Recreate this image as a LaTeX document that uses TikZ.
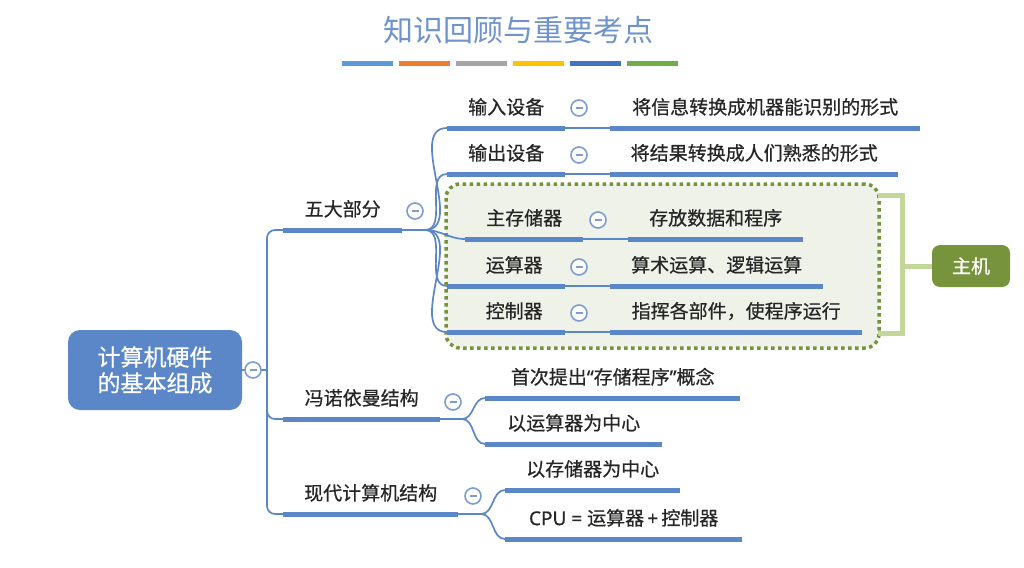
\documentclass[tikz,border=0pt]{standalone}
\usepackage{fontspec}
\newfontfamily\cjk{Noto Sans CJK SC}[FakeBold=0.6]
\newfontfamily\cjktitle{Noto Sans CJK SC}
\newfontfamily\latin{Noto Sans}[FakeBold=0.6]
\usetikzlibrary{positioning}
\definecolor{mapblue}{RGB}{91,135,200}
\definecolor{foldblue}{RGB}{125,157,210}
\definecolor{titleblue}{RGB}{111,147,204}
\definecolor{boxline}{RGB}{118,146,60}
\definecolor{boxfill}{RGB}{239,242,232}
\definecolor{bracketgreen}{RGB}{196,215,155}
\definecolor{hostgreen}{RGB}{119,147,60}
\definecolor{stripA}{HTML}{5B9BD5}
\definecolor{stripB}{HTML}{ED7D31}
\definecolor{stripC}{HTML}{A5A5A5}
\definecolor{stripD}{HTML}{FFC000}
\definecolor{stripE}{HTML}{4472C4}
\definecolor{stripF}{HTML}{70AD47}

\begin{document}
\begin{tikzpicture}[x=1pt,y=-1pt,
  bar/.style={rectangle,fill=mapblue,inner sep=0pt,minimum height=5pt,anchor=west},
  lbl/.style={font=\cjk\fontsize{19}{22}\selectfont,text=black!85,inner sep=0pt,text height=15pt,text depth=4pt},
  fold/.style={circle,draw=foldblue,line width=1.6pt,fill=white,minimum size=16pt,inner sep=0pt,
    path picture={\draw[foldblue,line width=1.4pt] ([xshift=-3.5pt]path picture bounding box.center) -- ([xshift=3.5pt]path picture bounding box.center);}},
  conn/.style={mapblue,line width=1.7pt},
]
\useasboundingbox[fill=white] (0,0) rectangle (1024,567);

% title and colour strips
\node[font=\cjktitle\fontsize{30}{34}\selectfont,text=titleblue] (title) at (518,30) {知识回顾与重要考点};
\foreach \c [count=\i] in {stripA,stripB,stripC,stripD,stripE,stripF}
  \node[fill=\c,minimum width=51pt,minimum height=5pt,inner sep=0pt] (strip\i) at ({367.5+57*(\i-1)},64) {};

% group of the host
\node[draw=boxline,fill=boxfill,line width=3.5pt,dash pattern=on 3.5pt off 3.5pt,rounded corners=14pt,
  minimum width=433pt,minimum height=164pt] (grp) at (662.5,266) {};
\node[fill=hostgreen,rounded corners=8pt,minimum width=78pt,minimum height=42pt,text=white,
  font=\cjk\fontsize{19}{22}\selectfont] (host) at (971,266) {主机};
\draw[bracketgreen,line width=5pt] (878,195) -- (902,195) -- (902,333) -- (878,333);
\coordinate (brk) at (902,266);
\draw[bracketgreen,line width=5pt] (brk) -- (host.west);

% root
\node[fill=mapblue,rounded corners=12pt,minimum width=174pt,minimum height=80pt,text=white,align=center,
  font=\cjk\fontsize{23}{26}\selectfont] (root) at (155,370) {计算机硬件\\的基本组成};

% bars
\node[bar,minimum width=119pt] (wd) at (283,230) {};
\node[bar,minimum width=157pt] (fn) at (283,419) {};
\node[bar,minimum width=175pt] (xd) at (283,514) {};
\node[bar,minimum width=118pt] (sr) at (447,128) {};
\node[bar,minimum width=118pt] (sc) at (447,174) {};
\node[bar,minimum width=118pt] (zc) at (465,239) {};
\node[bar,minimum width=118pt] (ys) at (447,286) {};
\node[bar,minimum width=118pt] (kz) at (447,332) {};
\node[bar,minimum width=310pt] (sr2) at (610,128) {};
\node[bar,minimum width=288pt] (sc2) at (610,174) {};
\node[bar,minimum width=175pt] (zc2) at (628,239) {};
\node[bar,minimum width=213pt] (ys2) at (610,286) {};
\node[bar,minimum width=252pt] (kz2) at (610,332) {};
\node[bar,minimum width=255pt] (fn1) at (485,398) {};
\node[bar,minimum width=177pt] (fn2) at (485,444) {};
\node[bar,minimum width=175pt] (xd1) at (505,490) {};
\node[bar,minimum width=237pt] (xd2) at (505,539) {};

% texts above the bars
\foreach \b/\t in {wd/五大部分,fn/冯诺依曼结构,xd/现代计算机结构,
  sr/输入设备,sc/输出设备,zc/主存储器,
  sr2/将信息转换成机器能识别的形式,sc2/将结果转换成人们熟悉的形式,zc2/存放数据和程序,
  ys2/算术运算、逻辑运算,kz2/指挥各部件，使程序运行,
  fn2/以运算器为中心,xd1/以存储器为中心}
  \node[lbl,above=7pt of \b] (\b-t) {\t};
\node[lbl,above=7pt of ys,xshift=8pt] (ys-t) {运算器};
\node[lbl,above=7pt of kz,xshift=8pt] (kz-t) {控制器};
\node[lbl,above=7pt of fn1] (fn1-t) {首次提出{\latin“}存储程序{\latin”}概念};
\node[lbl,above=7pt of xd2] (xd2-t) {{\latin CPU = }运算器{\latin\,+\,}控制器};

% connectors
\coordinate (hub) at (267,370);
\draw[conn] (root.east) -- (hub);
\foreach \b in {wd,fn,xd}
  \draw[conn,rounded corners=8pt] (hub) |- (\b.west);
\coordinate (wdj) at (425,230);
\draw[conn] (wd.east) -- (wdj);
\foreach \b in {sr,sc,zc,ys,kz}
  \draw[conn] (wdj) to[out=0,in=180] (\b.west);
\foreach \b in {sr,sc,zc,ys,kz}
  \draw[conn] (\b.east) -- (\b2.west);
\coordinate (fnj) at (462,419);
\draw[conn] (fn.east) -- (fnj);
\foreach \b in {fn1,fn2}
  \draw[conn] (fnj) to[out=0,in=180] (\b.west);
\coordinate (xdj) at (481,514);
\draw[conn] (xd.east) -- (xdj);
\foreach \b in {xd1,xd2}
  \draw[conn] (xdj) to[out=0,in=180] (\b.west);

% fold marks
\node[fold] (f-root) at (253,370) {};
\node[fold] (f-wd) at (415,211) {};
\node[fold] (f-fn) at (453,402) {};
\node[fold] (f-xd) at (473,496) {};
\node[fold] (f-sr) at (579,108) {};
\node[fold] (f-sc) at (579,155) {};
\node[fold] (f-zc) at (598,220) {};
\node[fold] (f-ys) at (579,267) {};
\node[fold] (f-kz) at (579,313) {};
\end{tikzpicture}
\end{document}
